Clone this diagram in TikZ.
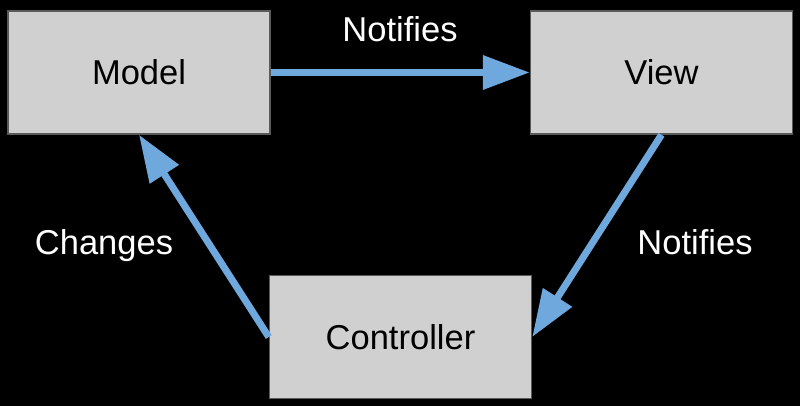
\documentclass[tikz,border=0pt]{standalone}
\usepackage{fontspec}
\setmainfont{Liberation Sans}
\usetikzlibrary{arrows.meta}
\definecolor{boxfill}{HTML}{D0D0D0}
\definecolor{boxline}{HTML}{5A5A5A}
\definecolor{arrowblue}{HTML}{6FA8DC}
\begin{document}
\begin{tikzpicture}[x=1pt,y=-1pt,
  box/.style={draw=boxline,fill=boxfill,line width=1.5pt,minimum width=262pt,minimum height=123pt,inner sep=0pt,font=\fontsize{34.5}{40}\selectfont,text=black},
  conn/.style={draw=arrowblue,line width=7pt,-{Triangle[length=47pt,width=33pt]}},
  lbl/.style={text=white,font=\fontsize{34.5}{40}\selectfont,anchor=base,inner sep=0pt}]
\useasboundingbox[fill=black] (0,0) rectangle (800,406);
\node[box] (model) at (139,72.5) {Model};
\node[box] (view) at (661.5,72.5) {View};
\node[box] (controller) at (400.5,337) {Controller};
\draw[conn] (model.east) -- (view.west);
\draw[conn] (view.south) -- (controller.east);
\draw[conn] (controller.west) -- (model.south);
\node[lbl] (n1) at (400,42) {Notifies};
\node[lbl] (n2) at (695,254) {Notifies};
\node[lbl] (ch) at (104,254) {Changes};
\end{tikzpicture}
\end{document}
